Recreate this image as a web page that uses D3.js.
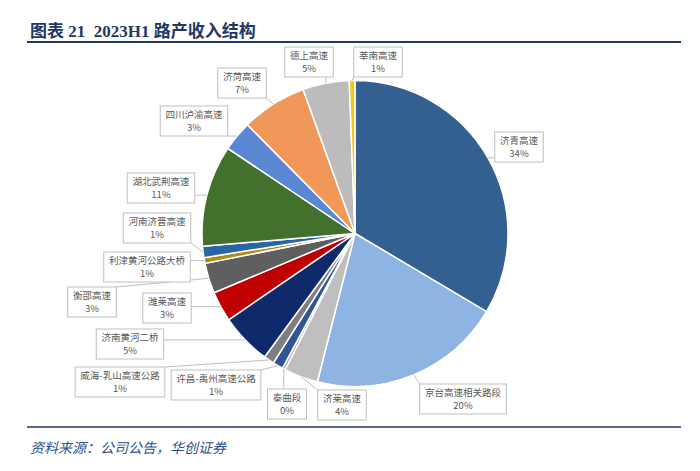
<!DOCTYPE html>
<html>
<head>
<meta charset="utf-8">
<script src="https://cdn.jsdelivr.net/npm/d3@7/dist/d3.min.js"></script>
<style>
  body { margin: 0; background: #fff; }
</style>
</head>
<body>
<svg id="chart"></svg>
<script>
// road names, clockwise from 12 o'clock
const roads = ['济青高速', '京台高速相关路段', '济莱高速', '泰曲段', '许昌-禹州高速公路',
	'威海-乳山高速公路', '济南黄河二桥', '潍莱高速', '衡邵高速', '利津黄河公路大桥',
	'河南济晋高速', '湖北武荆高速', '四川泸渝高速', '济菏高速', '德上高速', '莘南高速']
// revenue share (%)
const shares = [33.5, 20.4, 3.6, 0.3, 1.1, 1.1, 5.4, 3.2, 3.2, 0.6, 1.2, 10.7, 3.2, 6.9, 4.9, 0.6]
const colors = ['#335f91', '#8db4e2', '#bfbfbf', '#a5a5a5', '#2f5597', '#7f7f7f', '#0e2a6b',
	'#c00000', '#5f5f5f', '#b08a1a', '#2a65a5', '#44702d', '#5b87d3', '#f0975a', '#bcbcbc', '#f5c518']

// callout box centres (layout only)
const calloutPos = [[519, 147], [463, 399], [342, 405], [287, 404], [216, 385],
	[120, 382], [130, 344], [167, 308], [92, 302], [147, 267],
	[157, 228], [161, 188], [194, 121], [242, 83], [309, 62], [378, 62]]

const width = 700, height = 471
const cx = 355, cy = 233.5, radius = 153

const svg = d3.select('#chart').attr('width', width).attr('height', height)
	.style('font-family', '"Noto Sans CJK SC", "Noto Sans", sans-serif')

// title
svg.append('text')
	.attr('x', 30).attr('y', 37)
	.attr('fill', '#1f3864')
	.style('font-family', '"Liberation Serif", "Noto Sans CJK SC", serif')
	.style('font-weight', 'bold')
	.style('font-size', '17px')
	.style('white-space', 'pre')
	.text('图表 21  2023H1 路产收入结构')

svg.append('line')
	.attr('x1', 27).attr('x2', 681).attr('y1', 42).attr('y2', 42)
	.attr('stroke', '#1f3864').attr('stroke-width', 2)

svg.append('line')
	.attr('x1', 27).attr('x2', 681).attr('y1', 427).attr('y2', 427)
	.attr('stroke', '#1f3864').attr('stroke-width', 1.5)

svg.append('text')
	.attr('x', 30).attr('y', 453)
	.attr('fill', '#2f4f8f')
	.style('font-style', 'italic')
	.style('font-size', '14px')
	.text('资料来源：公司公告，华创证券')

const data = roads.map((r, i) => ({ name: r, value: shares[i], color: colors[i], pos: calloutPos[i] }))
const total = d3.sum(shares)

const pie = d3.pie().sort(null).value(d => d.value)
const arc = d3.arc().innerRadius(0).outerRadius(radius)
const arcs = pie(data)

const g = svg.append('g').attr('transform', 'translate(' + cx + ',' + cy + ')')

g.selectAll('path')
	.data(arcs)
	.enter()
	.append('path')
	.attr('d', arc)
	.attr('fill', d => d.data.color)
	.attr('stroke', '#fff')
	.attr('stroke-width', 1.5)

// callouts
const labelSize = 9.5
const lines = d => [d.data.name, Math.round(d.data.value / total * 100) + '%']

const callouts = svg.append('g')

arcs.forEach(d => {
	const mid = (d.startAngle + d.endAngle) / 2
	const ax = cx + radius * Math.sin(mid)
	const ay = cy - radius * Math.cos(mid)

	const grp = callouts.append('g')
	const txt = grp.append('text')
		.attr('text-anchor', 'middle')
		.attr('fill', '#595959')
		.style('font-size', labelSize + 'px')
	lines(d).forEach((t, k) => {
		txt.append('tspan')
			.attr('x', d.data.pos[0])
			.attr('y', d.data.pos[1] - 3 + k * 13)
			.text(t)
	})
	const w = txt.node().getBBox().width + 10
	const h = 30
	const x0 = d.data.pos[0] - w / 2, y0 = d.data.pos[1] - h / 2

	// leader line to nearest point of the box
	const px = Math.max(x0, Math.min(x0 + w, ax))
	const py = Math.max(y0, Math.min(y0 + h, ay))
	grp.insert('line', 'text')
		.attr('x1', ax).attr('y1', ay).attr('x2', px).attr('y2', py)
		.attr('stroke', '#bfbfbf').attr('stroke-width', 1)
	grp.insert('rect', 'text')
		.attr('x', x0).attr('y', y0).attr('width', w).attr('height', h)
		.attr('fill', '#fff')
		.attr('stroke', '#bfbfbf').attr('stroke-width', 1)
})
</script>
</body>
</html>
